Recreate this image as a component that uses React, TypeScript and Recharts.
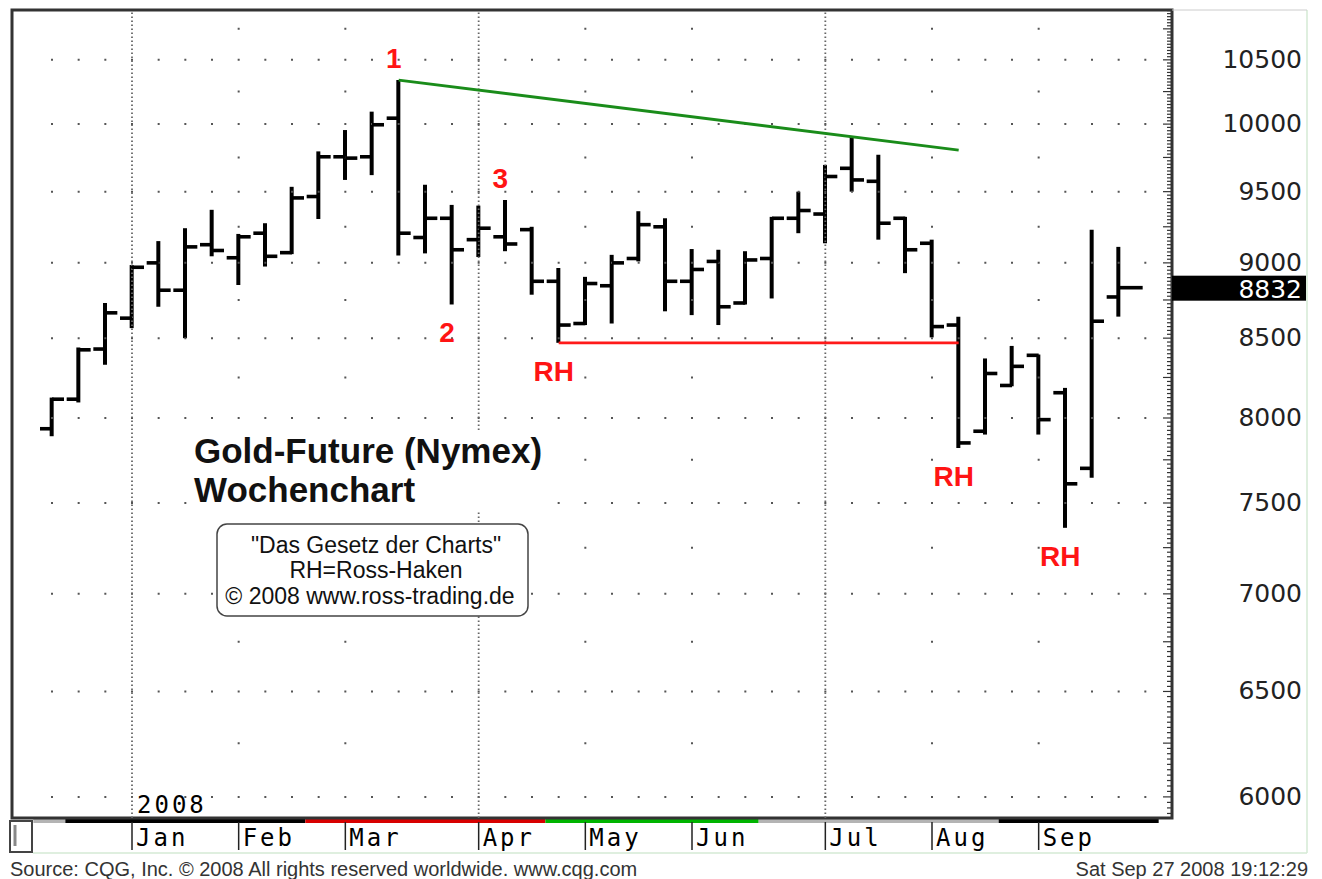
import React from 'react';
import {
  ComposedChart,
  Bar,
  Scatter,
  XAxis,
  YAxis,
  ReferenceLine,
  ReferenceArea,
  ReferenceDot
} from 'recharts';

// Gold future (Nymex), weekly bars, week starting Monday
const weeks = [
  '2007-12-17', '2007-12-24', '2007-12-31', '2008-01-07', '2008-01-14', '2008-01-21',
  '2008-01-28', '2008-02-04', '2008-02-11', '2008-02-18', '2008-02-25', '2008-03-03',
  '2008-03-10', '2008-03-17', '2008-03-24', '2008-03-31', '2008-04-07', '2008-04-14',
  '2008-04-21', '2008-04-28', '2008-05-05', '2008-05-12', '2008-05-19', '2008-05-26',
  '2008-06-02', '2008-06-09', '2008-06-16', '2008-06-23', '2008-06-30', '2008-07-07',
  '2008-07-14', '2008-07-21', '2008-07-28', '2008-08-04', '2008-08-11', '2008-08-18',
  '2008-08-25', '2008-09-01', '2008-09-08', '2008-09-15', '2008-09-22'
];
const opens = [
  7935, 8115, 8430, 8630, 9000, 8815, 9125, 9035, 9205, 9070, 9465, 9755, 9755, 10045,
  9175, 9310, 9160, 9180, 9230, 8875, 8595, 8845, 9030, 9250, 8875, 9010, 8730, 9030,
  9310, 9340, 9670, 9575, 9310, 9135, 8585, 7920, 8200, 8390, 8155, 7700, 8770
];
const highs = [
  8125, 8440, 8730, 8985, 9150, 9240, 9370, 9200, 9275, 9535, 9795, 9955, 10095, 10340,
  9550, 9405, 9400, 9440, 9250, 8965, 8905, 9055, 9360, 9310, 9095, 9090, 9080, 9320,
  9500, 9695, 9905, 9770, 9320, 9160, 8640, 8370, 8450, 8395, 8185, 9230, 9110
];
const lows = [
  7890, 8095, 8330, 8565, 8705, 8500, 9045, 8850, 8975, 9060, 9305, 9585, 9620, 9050,
  9065, 8720, 9040, 9080, 8785, 8470, 8585, 8595, 9010, 8675, 8650, 8585, 8720, 8760,
  9205, 9135, 9500, 9160, 8930, 8505, 7820, 7900, 8195, 7900, 7360, 7645, 8640
];
const closes = [
  8115, 8425, 8665, 8970, 8815, 9110, 9085, 9180, 9045, 9455, 9755, 9745, 9995, 9205,
  9310, 9090, 9240, 9130, 8875, 8585, 8860, 9000, 9265, 8875, 8955, 8705, 9020, 9310,
  9365, 9610, 9585, 9275, 9090, 8575, 7850, 8275, 8320, 7990, 7610, 8610, 8832
];

const priceLevels = [6000, 6500, 7000, 7500, 8000, 8500, 9000, 9500, 10000, 10500];
const halfLevels = [6250, 6750, 7250, 7750, 8250, 8750, 9250, 9750, 10250, 10750];
const monthLabels = ['Jan', 'Feb', 'Mar', 'Apr', 'May', 'Jun', 'Jul', 'Aug', 'Sep'];
const monthWeeks = [3, 7, 11, 16, 20, 24, 29, 33, 37];
const quarterWeeks = [3, 16, 29];

// contract band under the time axis
const bandSegments = [
  { from: -0.7, to: 0.5, color: '#b4b4b4' },
  { from: 0.5, to: 9.5, color: '#000000' },
  { from: 9.5, to: 18.5, color: '#d80000' },
  { from: 18.5, to: 26.5, color: '#00b400' },
  { from: 26.5, to: 35.5, color: '#b4b4b4' },
  { from: 35.5, to: 41.5, color: '#000000' }
];

const marks = [
  { week: 13, at: 'high', text: '1' },
  { week: 15, at: 'low', text: '2' },
  { week: 17, at: 'high', text: '3' },
  { week: 19, at: 'low', text: 'RH' },
  { week: 34, at: 'low', text: 'RH' },
  { week: 38, at: 'low', text: 'RH' }
];

const resistance = { fromWeek: 13, toWeek: 34, start: 10340, end: 9805 };
const support = { fromWeek: 19, toWeek: 34, level: 8470 };

const data = weeks.map((date, i) => ({
  i,
  date,
  open: opens[i],
  high: highs[i],
  low: lows[i],
  close: closes[i],
  range: [lows[i], highs[i]]
}));

const X_DOMAIN: [number, number] = [-1.5, 42];
const Y_DOMAIN: [number, number] = [5904.6, 10905];
const PLOT_W = 1160;
const UNIT = PLOT_W / (X_DOMAIN[1] - X_DOMAIN[0]);
const LAST = weeks.length - 1;

const scaleTicks: number[] = [];
for (let v = 5925; v <= 10900; v += 25) scaleTicks.push(v);

const SANS = 'Liberation Sans, Arial, sans-serif';
const AXIS_FONT = 'DejaVu Sans, Verdana, sans-serif';
const MONO = 'DejaVu Sans Mono, monospace';

const RightTick = (p: any) => {
  const v = p.payload.value;
  const len = v % 250 === 0 ? 9 : 5;
  return (
    <g>
      <line x1={p.x - len} x2={p.x} y1={p.y} y2={p.y} stroke="#333" strokeWidth={1.2} />
      {v % 500 === 0 && (
        <text x={p.x + 130} y={p.y - 1} dy="0.36em" textAnchor="end" fontFamily={AXIS_FONT} fontSize={25} fill="#222">
          {v}
        </text>
      )}
    </g>
  );
};

const LeftTick = (p: any) => {
  const v = p.payload.value;
  const len = v % 250 === 0 ? 9 : 5;
  return <line x1={p.x} x2={p.x + len} y1={p.y} y2={p.y} stroke="#333" strokeWidth={1.2} />;
};

const MonthTick = (p: any) => {
  const idx = monthWeeks.indexOf(p.payload.value);
  return (
    <g>
      <line x1={p.x} x2={p.x} y1={p.y + 4} y2={p.y + 32} stroke="#222" strokeWidth={1.5} />
      <text x={p.x + 4} y={p.y + 28} fontFamily={MONO} fontSize={24} letterSpacing={3} fill="#000">
        {monthLabels[idx]}
      </text>
    </g>
  );
};

const RangeLine = (p: any) => {
  const cx = p.x + p.width / 2;
  return <line x1={cx} x2={cx} y1={p.y} y2={p.y + p.height} stroke="#000" strokeWidth={4} />;
};

const OpenTick = (p: any) => (
  <line x1={p.cx - 12} x2={p.cx} y1={p.cy} y2={p.cy} stroke="#000" strokeWidth={3.6} />
);

const CloseTick = (p: any) => {
  const len = p.payload && p.payload.i === LAST ? 24 : 12;
  return <line x1={p.cx} x2={p.cx + len} y1={p.cy} y2={p.cy} stroke="#000" strokeWidth={3.6} />;
};

const PriceTag = (p: any) => {
  const { x, y, width } = p.viewBox;
  const right = x + width;
  return (
    <g>
      <rect x={right} y={y - 12} width={134} height={25} fill="#000" />
      <text x={right + 130} y={y + 1} dy="0.36em" textAnchor="end" fontFamily={AXIS_FONT} fontSize={25} fill="#fff">
        {closes[LAST]}
      </text>
    </g>
  );
};

export default function App() {
  return (
    <div style={{ position: 'absolute', left: 0, top: 0, width: 1322, height: 879, background: '#fff' }}>
      <ComposedChart
        width={1322}
        height={879}
        data={data}
        margin={{ top: 10, right: 0, bottom: 0, left: 12 }}
      >
        <XAxis
          dataKey="i"
          type="number"
          domain={X_DOMAIN}
          allowDataOverflow
          ticks={monthWeeks}
          interval={0}
          tick={(p: any) => <MonthTick {...p} />}
          tickLine={false}
          axisLine={false}
          tickSize={0}
          tickMargin={0}
          height={61}
        />
        <YAxis
          orientation="right"
          scale="log"
          domain={Y_DOMAIN}
          allowDataOverflow
          ticks={scaleTicks}
          interval={0}
          tick={(p: any) => <RightTick {...p} />}
          tickLine={false}
          axisLine={false}
          tickSize={0}
          tickMargin={0}
          width={150}
        />
        <YAxis
          yAxisId="edge"
          orientation="left"
          mirror
          scale="log"
          domain={Y_DOMAIN}
          allowDataOverflow
          ticks={scaleTicks}
          interval={0}
          tick={(p: any) => <LeftTick {...p} />}
          tickLine={false}
          axisLine={false}
          tickSize={0}
          tickMargin={0}
          width={0}
        />

        {priceLevels.map((v) => (
          <ReferenceLine
            key={'row' + v}
            segment={[{ x: -0.5, y: v }, { x: 41.5, y: v }]}
            stroke="#555"
            strokeWidth={2}
            strokeDasharray={`2 ${UNIT - 2}`}
            strokeDashoffset={UNIT - (UNIT / 2 - 1)}
          />
        ))}
        {halfLevels.map((v) => (
          <ReferenceLine
            key={'half' + v}
            segment={[{ x: 6.5, y: v }, { x: 37.5, y: v }]}
            stroke="#555"
            strokeWidth={2}
            strokeDasharray={`2 ${4 * UNIT - 2} 2 ${9 * UNIT - 2}`}
            strokeDashoffset={13 * UNIT - (UNIT / 2 - 1)}
          />
        ))}
        {quarterWeeks.map((w) => (
          <ReferenceLine key={'q' + w} x={w} stroke="#666" strokeWidth={1.8} strokeDasharray="1.4 2.6" />
        ))}

        {bandSegments.map((s, k) => (
          <ReferenceArea
            key={'band' + k}
            x1={s.from}
            x2={s.to}
            y1={5882}
            y2={5900}
            fill={s.color}
            fillOpacity={1}
            stroke="none"
            ifOverflow="visible"
          />
        ))}

        <ReferenceArea
          x1={X_DOMAIN[0]}
          x2={X_DOMAIN[1]}
          y1={Y_DOMAIN[0]}
          y2={Y_DOMAIN[1]}
          fill="none"
          stroke="#333"
          strokeWidth={3}
          ifOverflow="visible"
        />

        <ReferenceLine
          segment={[
            { x: resistance.fromWeek, y: resistance.start },
            { x: resistance.toWeek, y: resistance.end }
          ]}
          stroke="#1a8c1a"
          strokeWidth={2.8}
        />
        <ReferenceLine
          segment={[
            { x: support.fromWeek, y: support.level },
            { x: support.toWeek, y: support.level }
          ]}
          stroke="#ff1a1a"
          strokeWidth={2.8}
        />
        <ReferenceLine y={closes[LAST]} stroke="none" label={{ content: PriceTag }} />

        <Bar dataKey="range" barSize={4} shape={RangeLine} isAnimationActive={false} />
        <Scatter dataKey="open" shape={OpenTick} isAnimationActive={false} />
        <Scatter dataKey="close" shape={CloseTick} isAnimationActive={false} />

        {marks.map((m, k) => (
          <ReferenceDot
            key={'mark' + k}
            x={m.week}
            y={m.at === 'high' ? highs[m.week] : lows[m.week]}
            r={1}
            shape={(p: any) => (
              <text
                x={p.cx - 5}
                y={m.at === 'high' ? p.cy - 12 : p.cy + 38}
                textAnchor="middle"
                fontFamily={SANS}
                fontWeight="bold"
                fontSize={28}
                fill="#ff1414"
              >
                {m.text}
              </text>
            )}
          />
        ))}
      </ComposedChart>

      <svg
        width={1322}
        height={879}
        style={{ position: 'absolute', left: 0, top: 0, pointerEvents: 'none' }}
      >
        <rect x={190} y={432} width={360} height={80} fill="#fff" />
        <text x={194} y={463} fontFamily={SANS} fontWeight="bold" fontSize={35} fill="#111">
          Gold-Future (Nymex)
        </text>
        <text x={194} y={502} fontFamily={SANS} fontWeight="bold" fontSize={35} fill="#111">
          Wochenchart
        </text>

        <rect x={217} y={524} width={311} height={92} rx={10} fill="#fff" stroke="#444" strokeWidth={1.5} />
        <text x={376} y={553} textAnchor="middle" fontFamily={SANS} fontSize={23} fill="#111">
          "Das Gesetz der Charts"
        </text>
        <text x={376} y={578} textAnchor="middle" fontFamily={SANS} fontSize={23} fill="#111">
          RH=Ross-Haken
        </text>
        <text x={370} y={604} textAnchor="middle" fontFamily={SANS} fontSize={23} fill="#111">
          © 2008 www.ross-trading.de
        </text>

        <text x={137} y={813} fontFamily={MONO} fontSize={24} letterSpacing={3} fill="#000">
          2008
        </text>

        <rect x={10} y={821} width={22} height={31} fill="#fff" stroke="#444" strokeWidth={2} />
        <line x1={15} x2={15} y1={825} y2={846} stroke="#888" strokeWidth={3} />
        <line x1={33} x2={1307} y1={853} y2={853} stroke="#d4ead4" strokeWidth={1.5} />
        <line x1={1307} x2={1307} y1={10} y2={853} stroke="#d4ead4" strokeWidth={1.5} />
        <line x1={1172} x2={1307} y1={10} y2={10} stroke="#cccccc" strokeWidth={1} />

        <text x={10} y={876} fontFamily={SANS} fontSize={20} fill="#333">
          Source: CQG, Inc. © 2008 All rights reserved worldwide. www.cqg.com
        </text>
        <text x={1308} y={876} textAnchor="end" fontFamily={SANS} fontSize={20} fill="#333">
          Sat Sep 27 2008 19:12:29
        </text>
      </svg>
    </div>
  );
}
